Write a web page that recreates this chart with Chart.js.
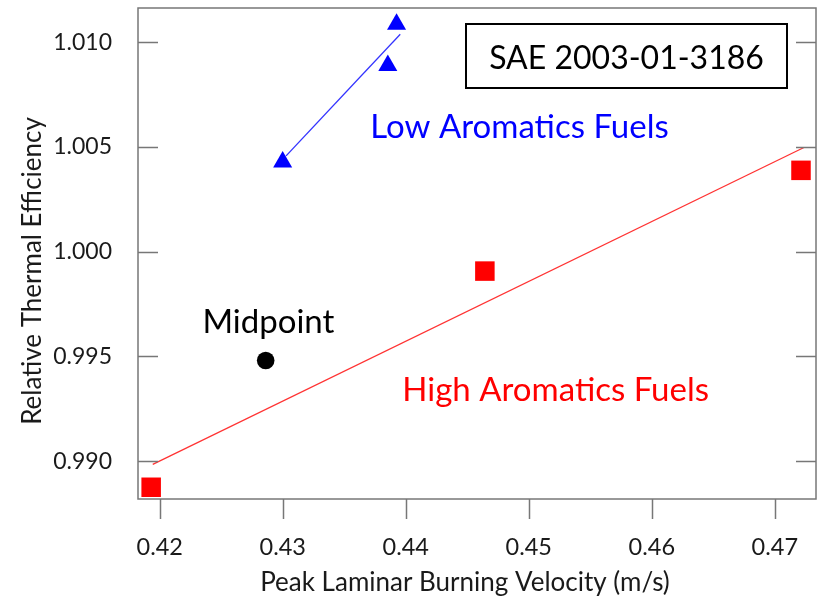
<!DOCTYPE html>
<html>
<head>
<meta charset="utf-8">
<script src="https://cdn.jsdelivr.net/npm/chart.js@4.4.1/dist/chart.umd.min.js"></script>
<style>
html, body { margin: 0; padding: 0; background: #fff; }
#wrap { width: 819px; height: 596px; position: relative; }
</style>
</head>
<body>
<div id="wrap"><canvas id="thermalChart"></canvas></div>
<script>
// relative thermal efficiency vs peak laminar burning velocity (m/s)
var lowAromVelocity = [0.42999, 0.43854, 0.43925];
var lowAromEfficiency = [1.00428, 1.00888, 1.01086];
var highAromVelocity = [0.41930, 0.44643, 0.47213];
var highAromEfficiency = [0.98875, 0.99907, 1.00388];
var midVelocity = [0.42861];
var midEfficiency = [0.99480];
// fit lines, ends
var lowFitVelocity = [0.43027, 0.43955];
var lowFitEfficiency = [1.00457, 1.01038];
var highFitVelocity = [0.41943, 0.47237];
var highFitEfficiency = [0.98984, 1.00497];
var xTicks = [0.42, 0.43, 0.44, 0.45, 0.46, 0.47];
var yTicks = [0.990, 0.995, 1.000, 1.005, 1.010];

function toPoints(xs, ys) {
    return xs.map(function(x, i) { return {x: x, y: ys[i]}; });
}

function noPadding(s) {
    s.paddingTop = 0;
    s.paddingBottom = 0;
    s.paddingLeft = 0;
    s.paddingRight = 0;
}

var axisFont = "Lato, 'Open Sans', sans-serif";
var noteFont = "Lato, 'Open Sans', sans-serif";

// frame, inward ticks, axis titles and the text notes
var framePlugin = {
    id: 'frame',
    afterDraw: function(chart) {
        var ctx = chart.ctx;
        var a = chart.chartArea;
        var xs = chart.scales.x, ys = chart.scales.y;
        ctx.save();
        ctx.strokeStyle = '#777777';
        ctx.lineWidth = 1.5;
        ctx.strokeRect(a.left, a.top, a.right - a.left, a.bottom - a.top);
        ctx.beginPath();
        yTicks.forEach(function(v) {
            var py = Math.round(ys.getPixelForValue(v)) + 0.5;
            ctx.moveTo(a.left, py); ctx.lineTo(a.left + 20, py);
            ctx.moveTo(a.right, py); ctx.lineTo(a.right - 20, py);
        });
        xTicks.forEach(function(v) {
            var px = Math.round(xs.getPixelForValue(v)) + 0.5;
            ctx.moveTo(px, a.bottom); ctx.lineTo(px, a.bottom + 20);
        });
        ctx.stroke();

        // axis titles
        ctx.fillStyle = '#1a1a1a';
        ctx.font = '26px ' + axisFont;
        ctx.textAlign = 'center';
        ctx.textBaseline = 'alphabetic';
        ctx.fillText('Peak Laminar Burning Velocity (m/s)', 465, 591);
        ctx.save();
        ctx.translate(41, 271);
        ctx.rotate(-Math.PI / 2);
        ctx.fillText('Relative Thermal Efficiency', 0, 0);
        ctx.restore();

        // notes
        ctx.textAlign = 'left';
        ctx.font = '33px ' + noteFont;
        ctx.fillStyle = '#0000ff';
        ctx.fillText('Low Aromatics Fuels', xs.getPixelForValue(0.43712), ys.getPixelForValue(1.00543));
        ctx.fillStyle = '#ff0000';
        ctx.fillText('High Aromatics Fuels', xs.getPixelForValue(0.43972), ys.getPixelForValue(0.99286));
        ctx.fillStyle = '#000000';
        ctx.fillText('Midpoint', xs.getPixelForValue(0.42347), ys.getPixelForValue(0.99613));

        // reference box
        var bx = 466, by = 24, bw = 321, bh = 64;
        ctx.fillStyle = '#ffffff';
        ctx.fillRect(bx, by, bw, bh);
        ctx.strokeStyle = '#000000';
        ctx.lineWidth = 2;
        ctx.strokeRect(bx, by, bw, bh);
        ctx.fillStyle = '#000000';
        ctx.textAlign = 'center';
        ctx.font = '32px ' + noteFont;
        ctx.fillText('SAE 2003-01-3186', bx + bw / 2, 69);
        ctx.restore();
    }
};

var data = {
    datasets: [
        {
            label: 'Midpoint',
            data: toPoints(midVelocity, midEfficiency),
            pointStyle: 'circle',
            pointRadius: 8.8,
            backgroundColor: '#000000',
            borderWidth: 0
        },
        {
            label: 'Low Aromatics Fuels',
            data: toPoints(lowAromVelocity, lowAromEfficiency),
            pointStyle: 'triangle',
            pointRadius: 11,
            backgroundColor: '#0000ff',
            borderWidth: 0
        },
        {
            label: 'High Aromatics Fuels',
            data: toPoints(highAromVelocity, highAromEfficiency),
            pointStyle: 'rect',
            pointRadius: 13.8,
            backgroundColor: '#ff0000',
            borderWidth: 0
        },
        {
            label: 'Low fit',
            data: toPoints(lowFitVelocity, lowFitEfficiency),
            showLine: true,
            pointRadius: 0,
            borderColor: '#3333ff',
            borderWidth: 1.3
        },
        {
            label: 'High fit',
            data: toPoints(highFitVelocity, highFitEfficiency),
            showLine: true,
            pointRadius: 0,
            borderColor: '#ff3333',
            borderWidth: 1.3
        }
    ]
};

var options = {
    responsive: false,
    animation: false,
    layout: { autoPadding: false, padding: { top: 8, right: 3, left: 0, bottom: 0 } },
    plugins: {
        legend: { display: false },
        tooltip: { enabled: false }
    },
    scales: {
        x: {
            type: 'linear',
            min: 0.41823,
            max: 0.47335,
            grid: { display: false },
            border: { display: false },
            afterBuildTicks: function(s) { s.ticks = xTicks.map(function(v) { return {value: v}; }); },
            afterFit: function(s) { s.height = 97; noPadding(s); },
            ticks: {
                padding: 26,
                color: '#1a1a1a',
                font: { family: axisFont, size: 23.5 },
                maxRotation: 0,
                callback: function(v) { return v.toFixed(2); }
            }
        },
        y: {
            type: 'linear',
            min: 0.98819,
            max: 1.01163,
            grid: { display: false },
            border: { display: false },
            afterBuildTicks: function(s) { s.ticks = yTicks.map(function(v) { return {value: v}; }); },
            afterFit: function(s) { s.width = 138; noPadding(s); },
            ticks: {
                padding: 18,
                color: '#1a1a1a',
                font: { family: axisFont, size: 23 },
                callback: function(v) { return v.toFixed(3); }
            }
        }
    }
};

var canvas = document.getElementById('thermalChart');
canvas.width = 819;
canvas.height = 596;
var thermalChart = new Chart(canvas, {
    type: 'scatter',
    data: data,
    options: options,
    plugins: [framePlugin]
});
</script>
</body>
</html>
